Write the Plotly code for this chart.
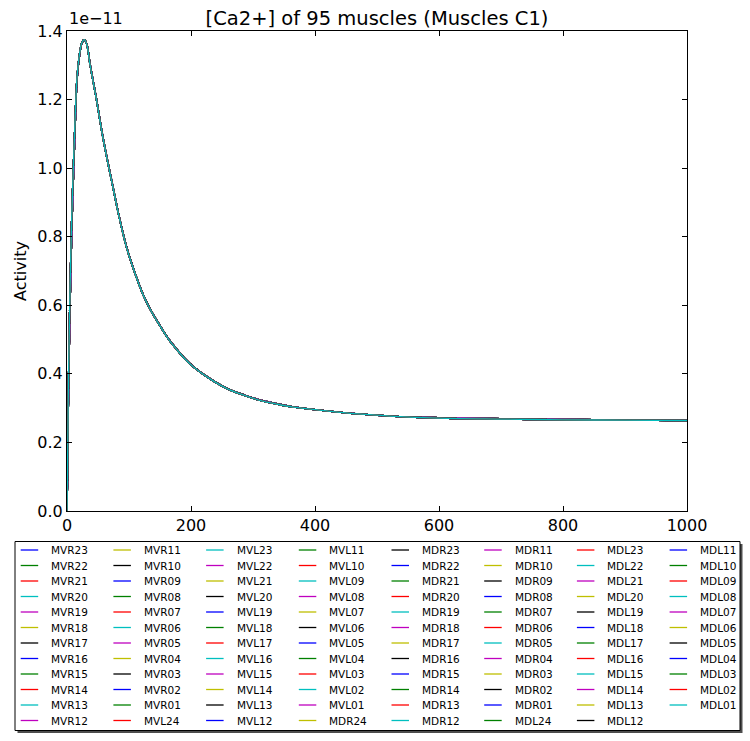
import plotly.graph_objects as go

# time in ms, activity in units of 1e-11
time_ms = [0, 1, 2, 5, 7.5, 10, 13, 16, 20, 24, 28, 32, 37, 47, 56, 64, 72, 85, 96, 110,
           123, 136, 150, 163, 177, 190, 204, 230, 258, 285, 311, 338, 365, 419, 470, 521,
           600, 700, 800, 900, 1000]
activity_ventral = [0.0, 0.1, 0.28, 0.6, 0.8, 0.95, 1.11, 1.25, 1.325, 1.364, 1.375, 1.362,
                    1.306, 1.208, 1.111, 1.035, 0.965, 0.852, 0.771, 0.693, 0.631, 0.583,
                    0.541, 0.504, 0.472, 0.445, 0.421, 0.387, 0.358, 0.339, 0.324, 0.313,
                    0.304, 0.292, 0.283, 0.277, 0.272, 0.269, 0.267, 0.266, 0.265]
activity_dorsal = [0.0, 0.15, 0.33, 0.66, 0.85, 0.99, 1.14, 1.26, 1.33, 1.366, 1.375, 1.36,
                   1.303, 1.205, 1.108, 1.032, 0.962, 0.85, 0.769, 0.691, 0.629, 0.582,
                   0.54, 0.503, 0.471, 0.444, 0.42, 0.386, 0.357, 0.338, 0.323, 0.312,
                   0.303, 0.292, 0.283, 0.277, 0.271, 0.268, 0.266, 0.265, 0.264]

quadrants = ["MVR", "MVL", "MDR", "MDL"]
muscles = []
for q in quadrants:
    for n in range(24, 0, -1):
        if q == "MVR" and n == 24:
            continue
        muscles.append("%s%02d" % (q, n))

colors = ["#0000FF", "#008000", "#FF0000", "#00BFBF", "#BF00BF", "#BFBF00", "#000000"]
font = "DejaVu Sans"

# plot box in pixels
L, R, T, B = 67, 687, 31, 511
W, H = 750, 741


def px(x):
    return (x - L) / (R - L)


def py(y):
    return (B - y) / (B - T)


fig = go.Figure()
for i, m in enumerate(muscles):
    vals = activity_dorsal if m.startswith("MD") else activity_ventral
    fig.add_trace(go.Scatter(x=time_ms, y=vals, mode="lines", name=m, showlegend=False,
                             line=dict(color=colors[i % 7], width=1.3, shape="spline")))

# hand-made legend (8 columns, column-major like matplotlib)
shapes = [
    dict(type="rect", xref="paper", yref="paper", x0=px(17.5), x1=px(742.5), y0=py(733),
         y1=py(544), fillcolor="#4d4d4d", line=dict(width=0), layer="above"),
    dict(type="rect", xref="paper", yref="paper", x0=px(15), x1=px(740), y0=py(730.5),
         y1=py(541.5), fillcolor="white", line=dict(color="black", width=1), layer="above"),
]
annotations = []
for i, m in enumerate(muscles):
    c, r = i // 12, i % 12
    x0 = 20.7 + 92.7 * c
    yy = 550 + 15.5 * r
    shapes.append(dict(type="line", xref="paper", yref="paper", x0=px(x0), x1=px(x0 + 17.5),
                       y0=py(yy), y1=py(yy), line=dict(color=colors[i % 7], width=1.3),
                       layer="above"))
    annotations.append(dict(text=m, xref="paper", yref="paper", x=px(x0 + 28.5), y=py(yy),
                            xanchor="left", yanchor="middle", showarrow=False,
                            font=dict(size=10.5, color="black", family=font)))

annotations.append(dict(text="1e\u221211", xref="paper", yref="paper", x=0, y=1,
                        xanchor="left", yanchor="bottom", yshift=1, showarrow=False,
                        font=dict(size=16, color="black", family=font)))

axis = dict(showgrid=False, zeroline=False, showline=True, linecolor="black", linewidth=1,
            mirror="ticks", ticks="inside", ticklen=5, tickcolor="black",
            tickfont=dict(size=16, color="black", family=font))

fig.update_layout(
    width=W, height=H,
    margin=dict(l=L, r=W - R, t=T, b=H - B),
    plot_bgcolor="white", paper_bgcolor="white",
    title=dict(text="[Ca2+] of 95 muscles (Muscles C1)", x=0.5, xref="paper",
               y=(H - 18) / H, yanchor="middle",
               font=dict(size=19.5, color="black", family=font)),
    xaxis=dict(axis, range=[0, 1000], dtick=200),
    yaxis=dict(axis, range=[0, 1.4], dtick=0.2, tickformat=".1f",
               title=dict(text="Activity", standoff=6,
                          font=dict(size=16, color="black", family=font))),
    shapes=shapes,
    annotations=annotations,
    showlegend=False,
)

# drop the browser's default 8px page margin so the figure sits at the top-left corner
fig.write_html("out.html", config={"displayModeBar": False},
               post_script="document.body.style.margin = '0px';")
